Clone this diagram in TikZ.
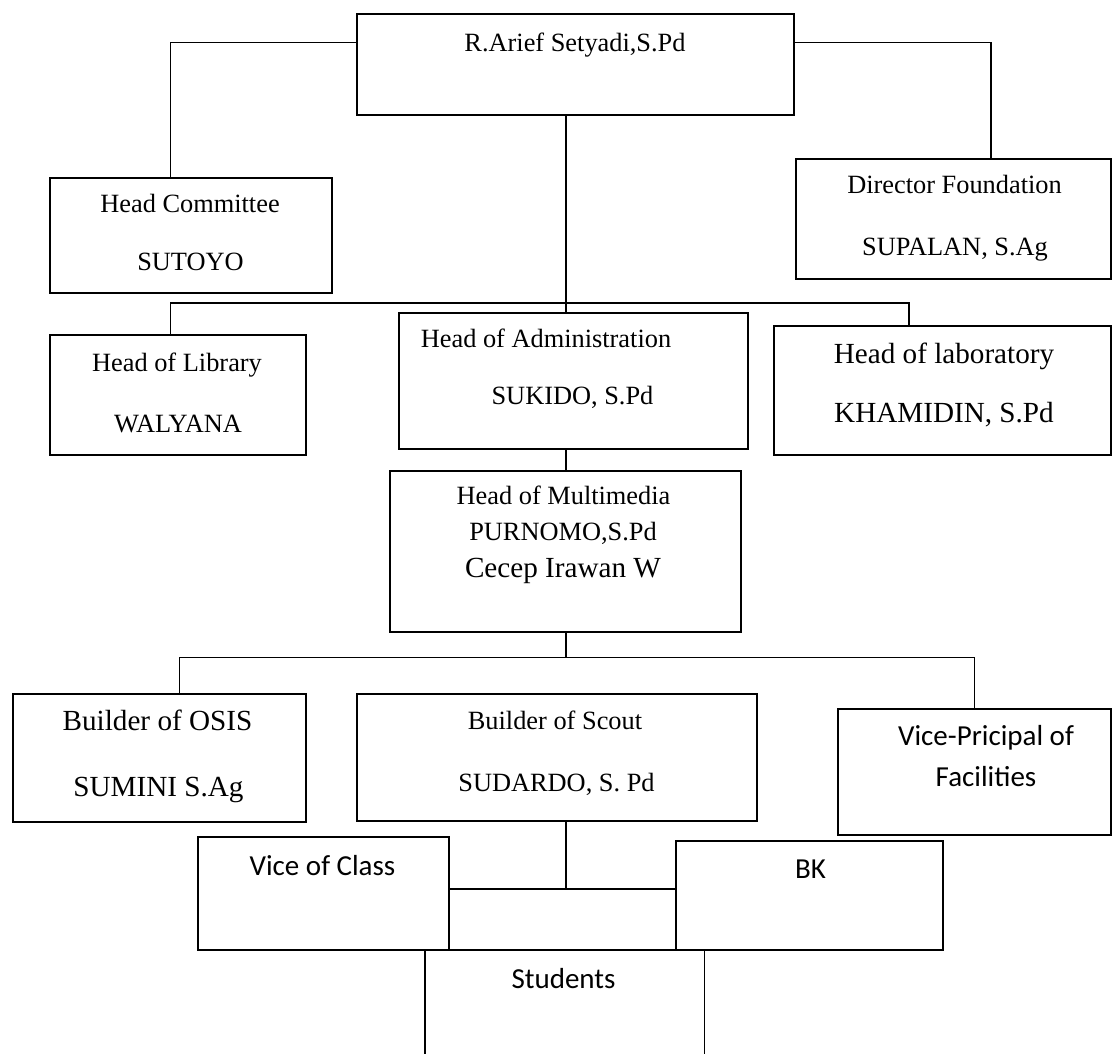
\documentclass[tikz,border=0pt]{standalone}
\usepackage{fontspec}
\setmainfont{Liberation Serif}
\newfontfamily\calibri{Carlito}

\begin{document}
\begin{tikzpicture}[
  box/.style={draw, line width=1pt, anchor=north west, inner sep=0pt},
  txt/.style={anchor=base, inner sep=0pt, font=\fontsize{15}{18}\selectfont},
  bigtxt/.style={anchor=base, inner sep=0pt, font=\fontsize{16.6}{20}\selectfont},
  sanstxt/.style={anchor=base, inner sep=0pt, font=\calibri\fontsize{16.5}{20}\selectfont},
  link/.style={line width=1pt}]
\clip (0,0) rectangle (22.34,-21.06);
% boxes
\node[box, minimum width=8.74cm, minimum height=2.02cm] (top)   at (7.12,-0.26)  {};
\node[box, minimum width=5.64cm, minimum height=2.30cm] (comm)  at (0.98,-3.54)  {};
\node[box, minimum width=6.30cm, minimum height=2.40cm] (dir)   at (15.90,-3.16) {};
\node[box, minimum width=5.12cm, minimum height=2.40cm] (lib)   at (0.98,-6.68)  {};
\node[box, minimum width=6.98cm, minimum height=2.72cm] (adm)   at (7.96,-6.24)  {};
\node[box, minimum width=6.74cm, minimum height=2.58cm] (lab)   at (15.46,-6.50) {};
\node[box, minimum width=7.02cm, minimum height=3.22cm] (mm)    at (7.78,-9.40)  {};
\node[box, minimum width=5.86cm, minimum height=2.56cm] (osis)  at (0.24,-13.86) {};
\node[box, minimum width=8.00cm, minimum height=2.54cm] (scout) at (7.12,-13.86) {};
\node[box, minimum width=5.46cm, minimum height=2.52cm] (vp)    at (16.74,-14.16) {};
\node[box, minimum width=5.02cm, minimum height=2.26cm] (vice)  at (3.94,-16.72) {};
\node[box, minimum width=5.34cm, minimum height=2.18cm] (bk)    at (13.50,-16.80) {};
\node[box, minimum width=5.59cm, minimum height=3.00cm] (stud)  at (8.48,-18.98) {};
% connectors
\coordinate (s1) at (11.32,-6.06);
\coordinate (s2) at (11.32,-13.15);
\coordinate (s3) at (11.32,-17.78);
\draw[link] ([yshift=-0.59cm]top.north west) -| ([xshift=-0.41cm]comm.north);
\draw[link] ([yshift=-0.59cm]top.north east) -| ([xshift=0.75cm]dir.north);
\draw[link] (s1 |- top.south) -- (s1 |- adm.north);
\draw[link] ([xshift=-0.15cm]lib.north) |- (s1) -| ([xshift=-0.67cm]lab.north);
\draw[link] (s1 |- adm.south) -- (s1 |- mm.north);
\draw[link] (s2 |- mm.south) -- (s2);
\draw[link] ([xshift=0.40cm]osis.north) |- (s2) -| (vp.north);
\draw[link] (s3 |- scout.south) -- (s3);
\draw[link] (vice.east |- s3) -- (bk.west |- s3);
% texts
\node[txt] (topname) at (11.50,-1.03) {R.Arief Setyadi,S.Pd};
\node[txt] (commtitle) at (3.80,-4.24) {Head Committee};
\node[txt] (commname) at (3.81,-5.40) {SUTOYO};
\node[txt] (dirtitle) at (19.09,-3.86) {Director Foundation};
\node[txt] (dirname) at (19.10,-5.10) {SUPALAN, S.Ag};
\node[txt] (libtitle) at (3.54,-7.42) {Head of Library};
\node[txt] (libname) at (3.56,-8.64) {WALYANA};
\node[txt] (admtitle) at (10.92,-6.94) {Head of Administration};
\node[txt] (admname) at (11.45,-8.08) {SUKIDO, S.Pd};
\node[bigtxt] (labtitle) at (18.88,-7.26) {Head of laboratory};
\node[bigtxt] (labname) at (18.88,-8.44) {KHAMIDIN, S.Pd};
\node[txt] (mmtitle) at (11.27,-10.08) {Head of Multimedia};
\node[txt] (mmname) at (11.26,-10.80) {PURNOMO,S.Pd};
\node[bigtxt] (mmname2) at (11.26,-11.55) {Cecep Irawan W};
\node[bigtxt] (osistitle) at (3.15,-14.61) {Builder of OSIS};
\node[bigtxt] (osisname) at (3.17,-15.93) {SUMINI S.Ag};
\node[txt] (scouttitle) at (11.10,-14.59) {Builder of Scout};
\node[txt] (scoutname) at (11.13,-15.83) {SUDARDO, S. Pd};
\node[sanstxt] (vptitle) at (19.72,-14.90) {Vice-Pricipal of};
\node[sanstxt] (vptitle2) at (19.72,-15.73) {Facilities};
\node[sanstxt] (vicetitle) at (6.45,-17.50) {Vice of Class};
\node[sanstxt] (bktitle) at (16.21,-17.57) {BK};
\node[sanstxt] (studtitle) at (11.27,-19.77) {Students};
\end{tikzpicture}
\end{document}
